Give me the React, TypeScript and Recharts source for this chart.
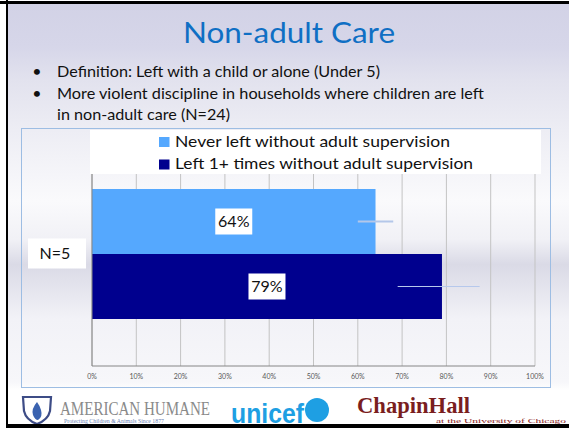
import React from 'react';
import { BarChart, Bar, XAxis, YAxis, CartesianGrid, Legend, ErrorBar, LabelList } from 'recharts';

const categories = ['N=5'];
const seriesNames = ['Never left without adult supervision', 'Left 1+ times without adult supervision'];
const seriesKeys = ['never', 'left'];
const seriesColors = ['#55A8FE', '#00008E'];
const neverLeft = [64];
const leftAlone = [79];
const neverLeftErr = [[4, 4]];
const leftAloneErr = [[10, 8.5]];
const xTicks = [0, 10, 20, 30, 40, 50, 60, 70, 80, 90, 100];

const titleText = 'Non-adult Care';
const bulletLines = [
  'Definition: Left with a child or alone (Under 5)',
  'More violent discipline in households where children are left',
  'in non-adult care (N=24)',
];

const data = categories.map((c, i) => ({
  category: c,
  never: neverLeft[i],
  left: leftAlone[i],
  neverErr: neverLeftErr[i],
  leftErr: leftAloneErr[i],
}));

const FONT = 'Lato, "Open Sans", sans-serif';

const PctLabel = (props: any) => {
  const { x, y, width, height, value } = props;
  const cx = Number(x) + Number(width) / 2;
  const cy = Number(y) + Number(height) / 2;
  return (
    <g>
      <rect x={cx - 18.5} y={cy - 13} width={37} height={26} fill="#ffffff" />
      <text x={cx} y={cy + 5.5} textAnchor="middle" fontSize={16} fontFamily={FONT} fill="#111">
        {value}%
      </text>
    </g>
  );
};

const CatTick = (props: any) => {
  const { y, payload } = props;
  return (
    <g>
      <rect x={6} y={y - 15} width={58} height={30} fill="#ffffff" />
      <text x={33} y={y + 5.5} textAnchor="middle" fontSize={16} fontFamily={FONT} fill="#111">
        {payload.value}
      </text>
    </g>
  );
};

const LegendContent = () => (
  <svg width={451} height={44} style={{ display: 'block', background: '#ffffff' }}>
    {seriesNames.map((name, i) => (
      <g key={name}>
        <rect x={69} y={7 + i * 22.5} width={10.5} height={10} fill={seriesColors[i]} />
        <text x={85} y={16.7 + i * 22.5} fontSize={15} fontFamily={FONT} fill="#111"
          textLength={i === 0 ? 275 : 298} lengthAdjust="spacingAndGlyphs">
          {name}
        </text>
      </g>
    ))}
  </svg>
);

export default function App() {
  const bg =
    'linear-gradient(to bottom, #d2d2e6 0%, #d6d6e9 10%, #e2e2ee 18%, #ededf4 30%, #fafafc 47%, #f1f1f6 56%, #dadae6 62%, #f2f2f7 75%, #f7f7fa 90%, #ffffff 92%, #ffffff 100%)';
  return (
    <div style={{ position: 'absolute', left: 0, top: 0, width: 569, height: 428, background: '#ffffff', overflow: 'hidden' }}>
      <div style={{ position: 'absolute', left: 8, top: 4, width: 561, height: 420, background: bg }} />
      <svg style={{ position: 'absolute', left: 0, top: 0 }} width={569} height={428}>
        <text x={183} y={43} fontSize={29} fontFamily={FONT} fill="#0F6FC4" textLength={212} lengthAdjust="spacingAndGlyphs">
          {titleText}
        </text>
        <text x={37} y={77} fontSize={16} fontFamily={FONT} textAnchor="middle" fill="#111">•</text>
        <text x={37} y={99} fontSize={16} fontFamily={FONT} textAnchor="middle" fill="#111">•</text>
        <text x={57} y={77} fontSize={16} fontFamily={FONT} fill="#111" textLength={323} lengthAdjust="spacingAndGlyphs">{bulletLines[0]}</text>
        <text x={57} y={99} fontSize={16} fontFamily={FONT} fill="#111" textLength={427} lengthAdjust="spacingAndGlyphs">{bulletLines[1]}</text>
        <text x={57} y={120} fontSize={16} fontFamily={FONT} fill="#111" textLength={173} lengthAdjust="spacingAndGlyphs">{bulletLines[2]}</text>

        {/* logos */}
        <path d="M23 397 L51 397 L50 411 Q48 420 37 424 Q26 420 24 411 Z" fill="#ffffff" stroke="#3d4c86" strokeWidth={2.2} />
        <path d="M37 402 Q31 409 33 415 Q35 420 38 420 Q43 417 41 410 Q40 406 37 402 Z" fill="#3b63b0" />
        <text x={60} y={415} fontSize={18} fontFamily='"Liberation Serif", serif' fill="#8a8a8a" textLength={150} lengthAdjust="spacingAndGlyphs">AMERICAN HUMANE</text>
        <text x={64} y={422.5} fontSize={5.5} fontFamily='"Liberation Serif", serif' fill="#6a82b4" textLength={100} lengthAdjust="spacingAndGlyphs">Protecting Children &amp; Animals Since 1877</text>
        <text x={231} y={423} fontSize={28} fontWeight="bold" fontFamily='"Liberation Sans", sans-serif' fill="#1E9FE3" textLength={73} lengthAdjust="spacingAndGlyphs">unicef</text>
        <circle cx={317} cy={410} r={12} fill="#1E9FE3" />
        <text x={357} y={413} fontSize={24} fontWeight="bold" fontFamily='"Liberation Serif", serif' fill="#7A1E1E" textLength={113} lengthAdjust="spacingAndGlyphs">ChapinHall</text>
        <text x={436} y={423} fontSize={7} fontFamily='"Liberation Serif", serif' fill="#8B2323" textLength={130} lengthAdjust="spacingAndGlyphs">at the University of Chicago</text>
      </svg>

      <div style={{ position: 'absolute', left: 21, top: 128, width: 528, height: 258, border: '1px solid #9dbde3' }}>
        <BarChart
          width={528}
          height={258}
          data={data}
          layout="vertical"
          margin={{ top: 12, right: 15, left: 0, bottom: 0 }}
          barCategoryGap={48}
          barGap={0}
        >
          <CartesianGrid horizontal={false} stroke="#c3c3c3" />
          <XAxis
            type="number"
            domain={[0, 100]}
            ticks={xTicks}
            tickFormatter={(v: number) => `${v}%`}
            height={21}
            tickLine={false}
            tickMargin={2}
            axisLine={{ stroke: '#868686' }}
            tick={{ fontSize: 7, fill: '#595959', fontFamily: FONT }}
            interval={0}
          />
          <YAxis
            type="category"
            dataKey="category"
            width={70}
            tickLine={false}
            axisLine={{ stroke: '#868686' }}
            tick={<CatTick />}
          />
          <Legend
            content={<LegendContent />}
            layout="horizontal"
            verticalAlign="middle"
            align="center"
            wrapperStyle={{ position: 'absolute', left: 68, top: 1, width: 451, height: 44 }}
          />
          <Bar dataKey={seriesKeys[0]} name={seriesNames[0]} fill={seriesColors[0]} isAnimationActive={false}>
            <LabelList dataKey={seriesKeys[0]} content={<PctLabel />} />
            <ErrorBar dataKey="neverErr" direction="x" width={0} stroke="#B4C7E9" strokeWidth={2} />
          </Bar>
          <Bar dataKey={seriesKeys[1]} name={seriesNames[1]} fill={seriesColors[1]} isAnimationActive={false}>
            <LabelList dataKey={seriesKeys[1]} content={<PctLabel />} />
            <ErrorBar dataKey="leftErr" direction="x" width={0} stroke="#B6C8EC" strokeWidth={1} />
          </Bar>
        </BarChart>
      </div>

      <div style={{ position: 'absolute', left: 0, top: 1, width: 569, height: 3, background: '#000' }} />
      <div style={{ position: 'absolute', left: 6, top: 0, width: 2, height: 428, background: '#000' }} />
      <div style={{ position: 'absolute', left: 6, top: 424, width: 563, height: 4, background: '#000' }} />
    </div>
  );
}
